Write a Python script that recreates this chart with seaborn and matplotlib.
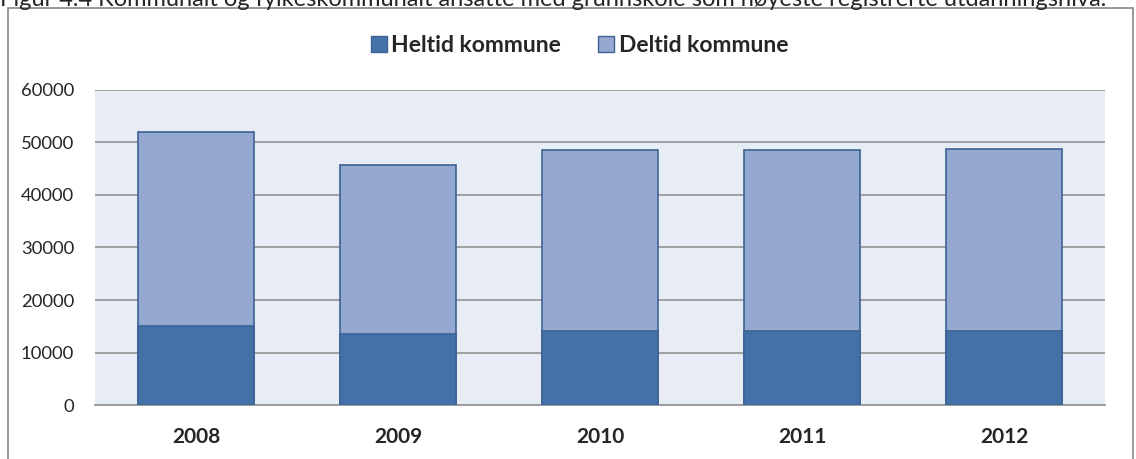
import numpy as np
import pandas as pd
import matplotlib
matplotlib.use("Agg")
import matplotlib.pyplot as plt
import seaborn as sns
from matplotlib.patches import Rectangle, Patch

years = ["2008", "2009", "2010", "2011", "2012"]
heltid = [15000, 13500, 14100, 14100, 14100]
totals = [52000, 45800, 48600, 48500, 48700]
deltid = [t - h for t, h in zip(totals, heltid)]

df = pd.DataFrame({"year": years, "heltid": heltid, "deltid": deltid, "total": totals})

sns.set_style("white")
plt.rcParams["font.family"] = ["Lato", "DejaVu Sans"]

dark = "#4472A8"
light = "#95A9D0"
edge = "#3C6394"

fig = plt.figure(figsize=(11.36, 4.59), dpi=100)
ax = fig.add_axes([0.0836, 0.1176, 0.8891, 0.6864])
ax.set_facecolor("#E8ECF4")

# stacked: total (light) behind, heltid (dark) in front
sns.barplot(data=df, x="year", y="total", color=light, width=0.57,
            edgecolor=edge, linewidth=1.2, saturation=1, ax=ax, zorder=3)
sns.barplot(data=df, x="year", y="heltid", color=dark, width=0.57,
            edgecolor=edge, linewidth=1.2, saturation=1, ax=ax, zorder=4)

ax.set_ylim(0, 60000)
ax.set_xlim(-0.5, 4.5)
ax.set_yticks(np.arange(0, 60001, 10000))
ax.set_yticklabels([str(v) for v in range(0, 60001, 10000)], fontsize=13.3)
ax.yaxis.grid(True, color="#999999", linewidth=1.3, zorder=0)
ax.set_axisbelow(True)
ax.tick_params(axis="y", length=0, pad=15)
ax.tick_params(axis="x", length=0, pad=16)
for lbl in ax.get_xticklabels():
    lbl.set_fontweight("bold")
    lbl.set_fontsize(15)
ax.set_xlabel("")
ax.set_ylabel("")
for s in ["top", "right", "left"]:
    ax.spines[s].set_visible(False)
ax.spines["bottom"].set_color("#999999")
ax.spines["bottom"].set_linewidth(1.3)

handles = [Patch(facecolor=dark, edgecolor=edge, label="Heltid kommune"),
           Patch(facecolor=light, edgecolor=edge, label="Deltid kommune")]
fig.legend(handles=handles, loc="center", bbox_to_anchor=(0.51, 0.9), ncol=2,
           frameon=False, prop={"weight": "bold", "size": 16.5},
           handlelength=0.7, handleheight=0.7, handletextpad=0.2, columnspacing=1.6)

fig.patches.append(Rectangle((8 / 1136, -0.01), 1125 / 1136, 1 - 8 / 459 + 0.01,
                             transform=fig.transFigure, fill=False,
                             edgecolor="#888888", linewidth=1.2))

fig.text(0.0, 1.0, "Figur 4.4 Kommunalt og fylkeskommunalt ansatte med grunnskole som høyeste registrerte utdanningsnivå.",
         ha="left", va="center", fontsize=17)

fig.savefig("out.png", dpi=100)
